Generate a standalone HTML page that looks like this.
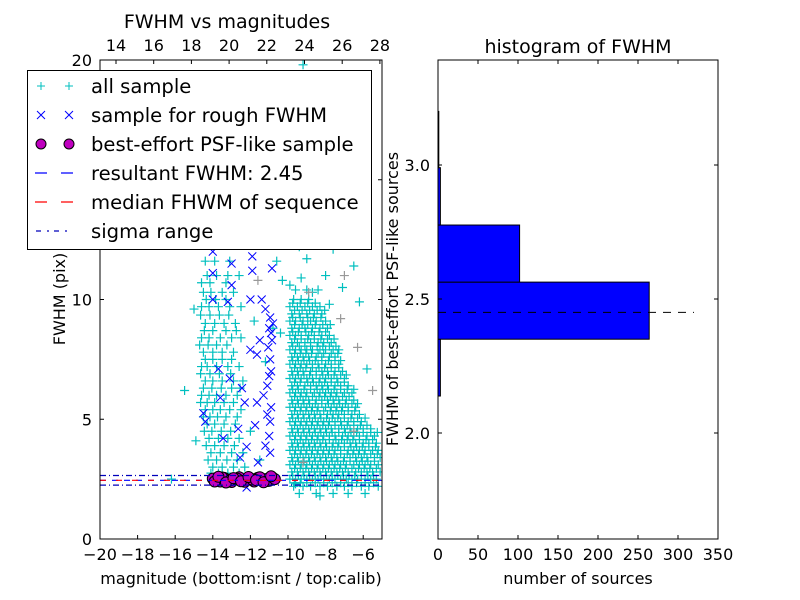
<!DOCTYPE html>
<html><head><meta charset="utf-8"><style>
html,body{margin:0;padding:0;background:#fff;width:800px;height:600px;overflow:hidden}
svg{display:block;font-family:"DejaVu Sans","Liberation Sans",sans-serif}
</style></head><body>
<svg id="chart" width="800" height="600" viewBox="0 0 800 600">
<rect width="800" height="600" fill="#fff"/>
<g id="left"></g><g id="right"></g>
</svg>
<script>
// ---- data: left scatter ----
const blobRows = [
[10.0,[-9.7,-9.3,-8.9]],
[9.7,[-9.9,-9.5,-9.1,-8.7,-8.3]],
[9.4,[-9.8,-9.4,-9.0,-8.6,-8.2]],
[9.1,[-9.9,-9.6,-9.2,-8.8,-8.5,-8.0]],
[8.8,[-9.8,-9.4,-9.1,-8.7,-8.3,-7.9]],
[8.5,[-9.9,-9.6,-9.3,-8.9,-8.6,-8.2,-7.8]],
[8.2,[-9.8,-9.5,-9.1,-8.8,-8.4,-8.1,-7.7]],
[7.9,[-9.9,-9.6,-9.3,-9.0,-8.7,-8.3,-8.0,-7.6,-7.3]],
[7.6,[-9.8,-9.5,-9.2,-8.9,-8.5,-8.2,-7.8,-7.5]],
[7.3,[-9.9,-9.6,-9.3,-9.0,-8.7,-8.4,-8.0,-7.7,-7.3]],
[7.0,[-9.8,-9.5,-9.2,-8.8,-8.5,-8.2,-7.9,-7.5,-7.1]],
[6.7,[-9.9,-9.6,-9.3,-9.0,-8.7,-8.3,-8.0,-7.7,-7.4,-7.0]],
[6.4,[-9.8,-9.5,-9.1,-8.8,-8.5,-8.2,-7.9,-7.5,-7.2,-6.8]],
[6.1,[-9.9,-9.6,-9.3,-9.0,-8.6,-8.3,-8.0,-7.7,-7.4,-7.0,-6.6]],
[5.8,[-9.8,-9.5,-9.2,-8.9,-8.5,-8.2,-7.9,-7.6,-7.3,-6.9,-6.5]],
[5.5,[-9.9,-9.6,-9.3,-9.0,-8.7,-8.4,-8.0,-7.7,-7.4,-7.1,-6.8,-6.4]],
[5.2,[-9.8,-9.5,-9.2,-8.9,-8.6,-8.3,-7.9,-7.6,-7.3,-7.0,-6.6,-6.2]],
[4.9,[-9.9,-9.6,-9.3,-9.0,-8.7,-8.4,-8.1,-7.8,-7.5,-7.2,-6.8,-6.5,-6.1]],
[4.6,[-9.8,-9.5,-9.2,-8.9,-8.6,-8.3,-8.0,-7.7,-7.3,-7.0,-6.7,-6.3,-6.0,-5.6]],
[4.3,[-9.9,-9.6,-9.3,-9.0,-8.7,-8.4,-8.1,-7.8,-7.5,-7.1,-6.8,-6.5,-6.2,-5.8,-5.4]],
[4.0,[-9.8,-9.5,-9.2,-8.9,-8.6,-8.3,-8.0,-7.6,-7.3,-7.0,-6.7,-6.4,-6.0,-5.7,-5.3]],
[3.7,[-9.9,-9.6,-9.3,-9.0,-8.7,-8.4,-8.1,-7.8,-7.5,-7.2,-6.8,-6.5,-6.2,-5.9,-5.5,-5.2]],
[3.4,[-9.8,-9.5,-9.2,-8.9,-8.6,-8.3,-8.0,-7.7,-7.4,-7.0,-6.7,-6.4,-6.1,-5.8,-5.4,-5.1]],
[3.1,[-9.9,-9.6,-9.3,-9.0,-8.7,-8.4,-8.1,-7.8,-7.5,-7.2,-6.9,-6.5,-6.2,-5.9,-5.6,-5.2]],
[2.8,[-9.8,-9.5,-9.2,-8.9,-8.6,-8.3,-8.0,-7.7,-7.4,-7.1,-6.8,-6.4,-6.1,-5.8,-5.5,-5.1]],
[2.5,[-9.9,-9.6,-9.3,-9.0,-8.7,-8.4,-8.1,-7.8,-7.5,-7.2,-6.9,-6.6,-6.3,-5.9,-5.6,-5.3]],
[2.2,[-9.7,-9.2,-8.8,-8.3,-7.9,-7.4,-7.0,-6.6,-6.1,-5.7,-5.2]],
[1.9,[-9.4,-8.5,-7.6,-6.8,-5.9]]
];
const blobRows2 = [
[10.4,[-9.6,-9.0,-8.4]],
[9.85,[-9.75,-9.35,-8.95,-8.55]],
[9.55,[-9.65,-9.25,-8.85,-8.45,-8.05]],
[9.25,[-9.75,-9.35,-8.95,-8.65,-8.25]],
[8.95,[-9.65,-9.25,-8.95,-8.55,-8.15,-7.75]],
[8.65,[-9.75,-9.45,-9.05,-8.75,-8.35,-8.0]],
[8.35,[-9.65,-9.3,-8.95,-8.6,-8.25,-7.9,-7.55]],
[8.05,[-9.75,-9.4,-9.1,-8.8,-8.45,-8.15,-7.8,-7.45]],
[7.75,[-9.65,-9.35,-9.05,-8.75,-8.4,-8.1,-7.7,-7.35]],
[7.45,[-9.75,-9.45,-9.15,-8.85,-8.55,-8.2,-7.85,-7.5,-7.2]],
[7.15,[-9.65,-9.35,-9.05,-8.7,-8.35,-8.05,-7.7,-7.3]],
[6.85,[-9.75,-9.45,-9.15,-8.85,-8.5,-8.15,-7.85,-7.55,-7.2,-6.9]],
[6.55,[-9.65,-9.35,-8.95,-8.65,-8.35,-8.05,-7.7,-7.35,-7.0]],
[6.25,[-9.75,-9.45,-9.15,-8.8,-8.45,-8.15,-7.85,-7.55,-7.2,-6.85,-6.5]],
[5.95,[-9.65,-9.35,-9.05,-8.7,-8.35,-8.05,-7.75,-7.45,-7.1,-6.75]],
[5.65,[-9.75,-9.45,-9.15,-8.85,-8.55,-8.2,-7.85,-7.55,-7.25,-6.95,-6.6,-6.3]],
[5.35,[-9.65,-9.35,-9.05,-8.75,-8.45,-8.1,-7.75,-7.45,-7.15,-6.8,-6.45]],
[5.05,[-9.75,-9.45,-9.15,-8.85,-8.55,-8.25,-7.95,-7.65,-7.35,-7.0,-6.65,-6.3,-5.9]],
[4.75,[-9.65,-9.35,-9.05,-8.75,-8.45,-8.15,-7.85,-7.5,-7.15,-6.85,-6.5,-6.15,-5.8]],
[4.45,[-9.75,-9.45,-9.15,-8.85,-8.55,-8.25,-7.95,-7.65,-7.3,-6.95,-6.65,-6.35,-6.0,-5.6,-5.25]],
[4.15,[-9.65,-9.35,-9.05,-8.75,-8.45,-8.15,-7.8,-7.45,-7.15,-6.85,-6.55,-6.2,-5.85,-5.5]],
[3.85,[-9.75,-9.45,-9.15,-8.85,-8.55,-8.25,-7.95,-7.65,-7.35,-7.0,-6.65,-6.35,-6.05,-5.7,-5.35]],
[3.55,[-9.65,-9.35,-9.05,-8.75,-8.45,-8.15,-7.85,-7.55,-7.2,-6.85,-6.55,-6.25,-5.95,-5.6,-5.25]],
[3.25,[-9.75,-9.45,-9.15,-8.85,-8.55,-8.25,-7.95,-7.65,-7.35,-7.05,-6.7,-6.35,-6.05,-5.75,-5.4]],
[2.95,[-9.65,-9.35,-9.05,-8.75,-8.45,-8.15,-7.85,-7.55,-7.25,-6.95,-6.6,-6.25,-5.95,-5.65,-5.3]],
[2.65,[-9.75,-9.45,-9.15,-8.85,-8.55,-8.25,-7.95,-7.65,-7.35,-7.05,-6.75,-6.45,-6.1,-5.75,-5.45]],
[2.35,[-9.65,-9.35,-9.0,-8.55,-8.1,-7.65,-7.2,-6.8,-6.35,-5.9,-5.45]]
];
const colRows = [
[12.4,[-14.2,-13.6]],
[11.6,[-14.4,-13.9,-13.1]],
[11.0,[-14.3,-13.8,-13.2,-12.6]],
[10.3,[-14.5,-14.1,-13.5,-12.9]],
[9.7,[-14.6,-14.2,-13.7,-13.1,-12.5]],
[9.0,[-14.4,-13.9,-13.4,-12.8]],
[8.4,[-14.6,-14.2,-13.6,-13.0,-12.5]],
[7.8,[-14.5,-14.0,-13.5,-12.9]],
[7.2,[-14.6,-14.3,-13.8,-13.2,-12.6]],
[6.6,[-14.4,-14.0,-13.5,-12.9,-12.4]],
[6.0,[-14.6,-14.2,-13.8,-13.3,-12.7]],
[5.4,[-14.4,-14.0,-13.6,-13.1,-12.5]],
[4.8,[-14.3,-13.9,-13.4,-12.8]],
[4.2,[-14.2,-13.7,-13.2,-12.6]],
[3.6,[-14.1,-13.6,-13.0,-12.4]],
[3.0,[-14.0,-13.5,-12.9,-12.3]]
];
const colRows2 = [
[10.7,[-14.6,-14.15,-13.3]],
[10.0,[-14.35,-13.85,-13.3]],
[9.35,[-14.65,-14.15,-13.65,-13.15]],
[8.7,[-14.45,-14.0,-13.3,-12.75]],
[8.1,[-14.7,-14.25,-13.8,-13.25]],
[7.5,[-14.4,-14.0,-13.5,-13.0]],
[6.9,[-14.65,-14.15,-13.65,-13.05]],
[6.3,[-14.5,-14.05,-13.55,-13.0,-12.55]],
[5.7,[-14.65,-14.3,-13.9,-13.4,-12.9]],
[5.1,[-14.5,-14.15,-13.75,-13.3,-12.7]],
[4.5,[-14.45,-14.05,-13.55,-13.05]],
[3.9,[-14.35,-13.9,-13.4,-12.85]],
[3.3,[-14.25,-13.8,-13.25,-12.7]],
[2.75,[-14.1,-13.7,-13.2,-12.6]]
];
const sparseMag = [-9.2,-8.6,-7.9,-9.7,-8.2,-7.4,-9.5,-8.8,-6.9,-10.1,-8.4,-7.6,-9.0,-6.5,-8.0,-9.9,-7.1,-8.7,-6.2,-9.3,-7.8,-10.4,-5.8,-8.9,-7.3,-11.8,-11.2,-12.0,-10.8,-11.5,-15.0,-15.5,-14.9,-16.2,-9.6,-8.3,-10.2,-9.4,-8.1,-10.6,-9.8,-8.5,-7.0,-10.3];
const sparseFwhm = [19.8,18.9,17.6,16.8,15.9,15.2,14.6,13.8,13.4,12.9,12.5,12.1,11.7,11.4,11.0,10.6,10.5,10.3,9.9,10.9,9.8,8.6,7.1,16.0,13.0,9.1,7.4,4.5,8.8,3.3,9.6,6.2,4.1,2.5,2.3,1.8,14.1,12.2,13.1,11.6,17.9,15.0,12.8,10.8];
const roughMag = [-14.0,-13.0,-11.9,-10.85,-14.0,-13.2,-12.0,-11.4,-10.95,-11.5,-10.85,-11.65,-10.95,-13.7,-12.45,-11.1,-13.6,-12.3,-11.65,-14.5,-14.4,-10.95,-12.65,-11.75,-13.45,-12.2,-11.2,-12.55,-11.6,-10.95,-12.2,-11.0,-11.05,-10.9,-11.0,-10.9,-11.1,-11.2,-10.8,-11.3,-14.0,-12.9,-11.5,-11.9,-13.0,-11.0,-10.9,-12.0,-13.1];
const roughFwhm = [11.1,11.5,11.2,11.3,10.0,9.9,10.0,10.0,9.25,8.3,8.3,7.7,7.5,7.1,6.3,6.4,5.9,5.7,5.7,5.25,4.9,4.9,4.6,4.75,4.2,3.85,3.9,3.4,3.2,3.6,2.15,8.8,8.0,7.0,6.8,5.5,5.2,9.6,9.0,6.0,12.0,12.3,12.3,11.8,10.6,4.3,8.6,7.9,6.7];
const psfMag = [-14.0,-13.8,-13.6,-13.4,-13.2,-13.0,-12.8,-12.6,-12.4,-12.2,-12.0,-11.8,-11.6,-11.4,-11.2,-11.0,-10.8,-13.9,-13.5,-13.1,-12.7,-12.3,-11.9,-11.5,-11.1,-10.7,-13.7,-13.3,-12.9,-12.5,-12.1,-11.7,-11.3,-10.9];
const psfFwhm = [2.52,2.45,2.40,2.55,2.48,2.38,2.50,2.58,2.42,2.47,2.53,2.40,2.56,2.45,2.50,2.43,2.55,2.40,2.57,2.44,2.52,2.39,2.48,2.58,2.42,2.50,2.60,2.36,2.54,2.41,2.59,2.46,2.37,2.62];
const grayMag = [-8.9,-7.2,-6.3,-7.0,-8.5,-6.5,-9.2,-5.5,-11.6,-7.7];
const grayFwhm = [10.3,9.2,8.0,11.0,14.0,4.5,3.2,6.2,10.8,12.6];
const resultFwhm = 2.45, medianFwhm = 2.45, sigma = 0.2;
const leftXTicks = [-20,-18,-16,-14,-12,-10,-8,-6];
const leftYTicks = [0,5,10,15,20];
const topTicks = [14,16,18,20,22,24,26,28];
// ---- data: histogram ----
const binEdges = [2.138,2.35,2.563,2.776,2.99,3.20];
const binCounts = [3,264,102,3,1];
const histXTicks = [0,50,100,150,200,250,300,350];
const histYTicks = [2.0,2.5,3.0];

const NS='http://www.w3.org/2000/svg';
function mk(parent,tag,attrs,text){const e=document.createElementNS(NS,tag);for(const k in attrs)e.setAttribute(k,attrs[k]);if(text!==undefined)e.textContent=text;parent.appendChild(e);return e;}
const L=document.getElementById('left'), R=document.getElementById('right');
const lx0=100,lx1=382,ly0=60,ly1=539;
const xL=v=>lx0+(v+20)/15*(lx1-lx0);
const yL=v=>ly1-v/20*(ly1-ly0);
const xTop=v=>116+(v-14)*18.85;
const clip=mk(L,'clipPath',{id:'lclip'});mk(clip,'rect',{x:lx0,y:ly0,width:lx1-lx0,height:ly1-ly0});
const marks=mk(L,'g',{'clip-path':'url(#lclip)'});


function plus(g,x,y,c){const p=mk(g,'path',{d:`M${x-4.5},${y}h9M${x},${y-4.5}v9`,stroke:c,'stroke-width':1.2,fill:'none'});

}
const cy='#00bfbf';
const gAll=mk(marks,'g',{});


blobRows.concat(blobRows2,colRows,colRows2).forEach(r=>r[1].forEach(m=>plus(gAll,xL(m),yL(r[0]),cy)));
sparseMag.forEach((m,i)=>plus(gAll,xL(m),yL(sparseFwhm[i]),cy));
grayMag.forEach((m,i)=>plus(gAll,xL(m),yL(grayFwhm[i]),'#999'));
const gRough=mk(marks,'g',{});


roughMag.forEach((m,i)=>{const x=xL(m),y=yL(roughFwhm[i]);const p=mk(gRough,'path',{d:`M${x-4},${y-4}l8,8M${x-4},${y+4}l8,-8`,stroke:'#0000ff','stroke-width':1,fill:'none'});

});
const gPsf=mk(marks,'g',{});


psfMag.forEach((m,i)=>{const c=mk(gPsf,'circle',{cx:xL(m),cy:yL(psfFwhm[i]),r:5.5,fill:'#bf00bf',stroke:'#000','stroke-width':1});

});
const hl=(v,c,da,nm)=>{const l=mk(marks,'line',{x1:lx0,x2:lx1,y1:yL(v),y2:yL(v),stroke:c,'stroke-width':1.2,'stroke-dasharray':da});

};
hl(resultFwhm,'#0000ff','6,6','resultant-fwhm-line');
hl(medianFwhm,'#ff0000','6,10','median-fwhm-line');
hl(resultFwhm+sigma,'#0000bb','6,3,1,3','sigma-upper-line');
hl(resultFwhm-sigma,'#0000bb','6,3,1,3','sigma-lower-line');
const lf=mk(L,'rect',{x:lx0,y:ly0,width:lx1-lx0,height:ly1-ly0,fill:'none',stroke:'#000','stroke-width':1});


leftXTicks.forEach(v=>{const x=xL(v);mk(L,'path',{d:`M${x},${ly1}v-4`,stroke:'#000'});
const t=mk(L,'text',{x:x,y:560,'font-size':16,'text-anchor':'middle'},(v<0?'\u2212':'')+Math.abs(v));

});
leftYTicks.forEach(v=>{const y=yL(v);mk(L,'path',{d:`M${lx0},${y}h4M${lx1},${y}h-4`,stroke:'#000'});
const t=mk(L,'text',{x:92,y:y+6,'font-size':16,'text-anchor':'end'},v);

});
topTicks.forEach(v=>{const x=xTop(v);mk(L,'path',{d:`M${x},${ly0}v4`,stroke:'#000'});
const t=mk(L,'text',{x:x,y:51,'font-size':16,'text-anchor':'middle'},v);

});
let t=mk(L,'text',{x:227,y:28,'font-size':19,'text-anchor':'middle'},'FWHM vs magnitudes');


t=mk(L,'text',{x:241,y:584,'font-size':16,'text-anchor':'middle'},'magnitude (bottom:isnt / top:calib)');


t=mk(L,'text',{x:65,y:299,'font-size':16,'text-anchor':'middle',transform:'rotate(-90 65 299)'},'FWHM (pix)');


const lg=mk(L,'g',{});


mk(lg,'rect',{x:27.5,y:70.5,width:344,height:179,fill:'#fff',stroke:'#000','stroke-width':1});
const labels=['all sample','sample for rough FWHM','best-effort PSF-like sample','resultant FWHM: 2.45','median FHWM of sequence','sigma range'];
labels.forEach((s,i)=>{const y=86+i*29;const e=mk(lg,'g',{});


[41,69].forEach(x=>{
 if(i==0)mk(e,'path',{d:`M${x-4},${y}h8M${x},${y-4}v8`,stroke:cy});
 if(i==1)mk(e,'path',{d:`M${x-4},${y-4}l8,8M${x-4},${y+4}l8,-8`,stroke:'#00f'});
 if(i==2)mk(e,'circle',{cx:x,cy:y,r:5,fill:'#bf00bf',stroke:'#000'});});
 if(i==3)mk(e,'path',{d:`M35,${y}h12M61,${y}h12`,stroke:'#00f','stroke-width':1.3});
 if(i==4)mk(e,'path',{d:`M35,${y}h12M61,${y}h12`,stroke:'#f00','stroke-width':1.3});
 if(i==5)mk(e,'path',{d:`M36,${y}h5M47,${y}h2M54,${y}h5M65,${y}h2`,stroke:'#00b','stroke-width':1.3});
 mk(e,'text',{x:91,y:y+7,'font-size':19.6},s);});
const rx0=438,rx1=718,ry0=60,ry1=539;
const xR=v=>rx0+v/350*(rx1-rx0);
const yR=v=>299-(v-2.5)*268;
binCounts.forEach((c,i)=>{const y0=yR(binEdges[i+1]),y1=yR(binEdges[i]);
const b=mk(R,'rect',{x:rx0,y:y0,width:xR(c)-rx0,height:y1-y0,fill:'#0000ff',stroke:'#000','stroke-width':1});

});
const ml=mk(R,'line',{x1:rx0,x2:xR(320),y1:yR(resultFwhm),y2:yR(resultFwhm),stroke:'#000','stroke-dasharray':'8,7','stroke-width':1});


const rf=mk(R,'rect',{x:rx0,y:ry0,width:rx1-rx0,height:ry1-ry0,fill:'none',stroke:'#000'});


histXTicks.forEach(v=>{const x=xR(v);mk(R,'path',{d:`M${x},${ry1}v-4M${x},${ry0}v4`,stroke:'#000'});
const t=mk(R,'text',{x:x,y:560,'font-size':16,'text-anchor':'middle'},v);

});
histYTicks.forEach(v=>{const y=yR(v);mk(R,'path',{d:`M${rx0},${y}h4M${rx1},${y}h-4`,stroke:'#000'});
const t=mk(R,'text',{x:430,y:y+6,'font-size':16,'text-anchor':'end'},v.toFixed(1));

});
t=mk(R,'text',{x:578,y:53,'font-size':19,'text-anchor':'middle'},'histogram of FWHM');


t=mk(R,'text',{x:578,y:584,'font-size':16,'text-anchor':'middle'},'number of sources');


t=mk(R,'text',{x:398,y:299,'font-size':16,'text-anchor':'middle',transform:'rotate(-90 398 299)'},'FWHM of best-effort PSF-like sources');


</script>
</body></html>
